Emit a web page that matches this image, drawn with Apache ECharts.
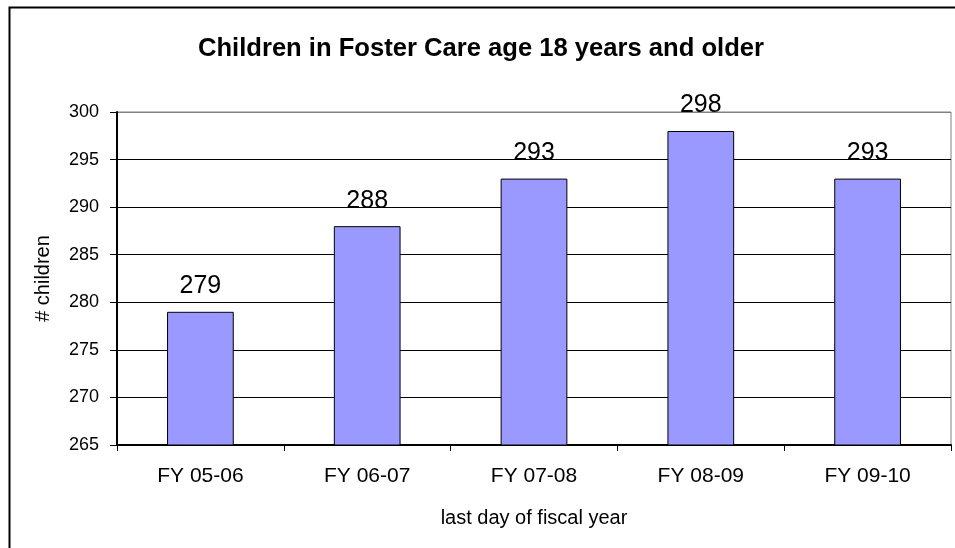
<!DOCTYPE html>
<html>
<head>
<meta charset="utf-8">
<script src="https://cdn.jsdelivr.net/npm/echarts@6/dist/echarts.min.js"></script>
<style>html,body{margin:0;padding:0;background:#fff}#c{width:955px;height:548px}</style>
</head>
<body>
<div id="c"></div>
<script>
const categories = ['FY 05-06', 'FY 06-07', 'FY 07-08', 'FY 08-09', 'FY 09-10'];
const values = [279, 288, 293, 298, 293];
const titleText = 'Children in Foster Care age 18 years and older';
const xName = 'last day of fiscal year';
const yName = '# children';

const chart = echarts.init(document.getElementById('c'));
const font = 'Arial, "Liberation Sans", sans-serif';
chart.setOption({
  backgroundColor: '#fff',
  animation: false,
  title: {
    text: titleText, left: 476, top: 31, textAlign: 'center',
    textStyle: { fontFamily: font, fontWeight: 'bold', fontSize: 25.6, color: '#000' }
  },
  graphic: [{
    type: 'rect', left: 7, top: 5, z: -1,
    shape: { x: 0, y: 0, width: 960, height: 560 },
    style: { fill: 'none', stroke: '#000', lineWidth: 2 }
  }],
  grid: { left: 117, right: 4, top: 112, bottom: 103, show: true, borderColor: '#808080', borderWidth: 1 },
  xAxis: {
    type: 'category', data: categories,
    name: xName, nameLocation: 'middle', nameGap: 63,
    nameTextStyle: { fontFamily: font, fontSize: 20, color: '#000' },
    axisLine: { lineStyle: { color: '#000', width: 2 } },
    axisTick: { show: true, length: 6, lineStyle: { color: '#000' } },
    axisLabel: { fontFamily: font, fontSize: 21, color: '#000', margin: 21 }
  },
  yAxis: {
    type: 'value', min: 265, max: 300, interval: 5,
    name: yName, nameLocation: 'middle', nameGap: 64,
    nameTextStyle: { fontFamily: font, fontSize: 20, color: '#000' },
    axisLine: { show: true, lineStyle: { color: '#000', width: 2 } },
    axisTick: { show: true, length: 7, lineStyle: { color: '#000' } },
    axisLabel: { fontFamily: font, fontSize: 18, color: '#000', margin: 18 },
    splitLine: { show: true, lineStyle: { color: ['#000','#000','#000','#000','#000','#000','#000','#808080'], width: 1 } }
  },
  series: [{
    type: 'bar', data: values, barWidth: '40%',
    itemStyle: { color: '#9999FF', borderColor: '#000', borderWidth: 1 },
    label: { show: true, position: 'top', distance: 13, fontFamily: font, fontSize: 25, color: '#000' }
  }]
});
</script>
</body>
</html>
